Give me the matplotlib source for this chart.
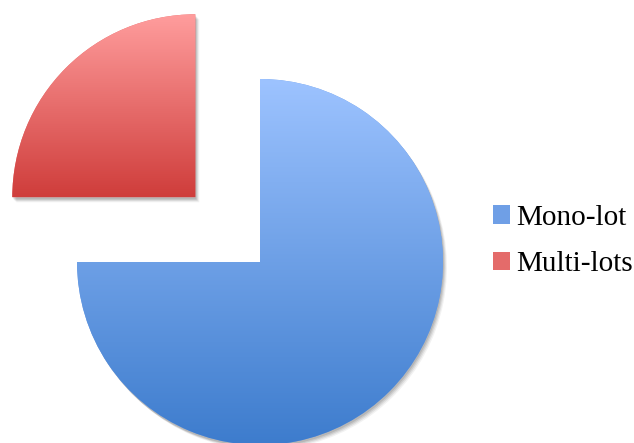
#
# Pie chart: Mono-lot vs Multi-lots, with gradient fills
#

import numpy as np
import matplotlib
matplotlib.use('Agg')
import matplotlib.pyplot as plt
from matplotlib.colors import LinearSegmentedColormap
from matplotlib.patches import Wedge

labels = ["Mono-lot", "Multi-lots"]
shares = [75, 25]
explode_frac = [0, 0.5]

# top colour, bottom colour for each slice
GRADS = [("#9dc3ff", "#3d7ccd"), ("#ff9d9d", "#cf3d3b")]
MID = ["#6f9fe6", "#e46b6a"]

W, H = 634, 443
R = 183

fig = plt.figure(figsize=(W / 100, H / 100), dpi=100)
ax = fig.add_axes([0, 0, 1, 1])
ax.set_axis_off()

# pie's explode is in data units here, so scale by the radius
wedges, _ = ax.pie(shares, labels=None, explode=[e * R for e in explode_frac],
                   startangle=90, counterclock=False, center=(260, H - 262),
                   radius=R, colors=MID, wedgeprops=dict(linewidth=0))

for i, w in enumerate(wedges):
    # soft shadow under the slice
    for dx, dy, a in [(4, -5, 0.05), (3, -4, 0.07), (2, -3, 0.09), (1, -2, 0.1)]:
        sh = Wedge((w.center[0] + dx, w.center[1] + dy), w.r, w.theta1, w.theta2,
                   facecolor="black", edgecolor="none", alpha=a, zorder=0.5)
        ax.add_patch(sh)
    w.set_zorder(1)
    ext = w.get_path().get_extents()
    cmap = LinearSegmentedColormap.from_list("g%d" % i, [GRADS[i][1], GRADS[i][0]])
    grad = np.linspace(0, 1, 256).reshape(-1, 1)
    im = ax.imshow(grad, extent=[ext.x0, ext.x1, ext.y0, ext.y1], cmap=cmap,
                   aspect='auto', origin='lower', zorder=2, interpolation='bilinear')
    im.set_clip_path(w)

ax.set_xlim(0, W)
ax.set_ylim(0, H)
ax.set_aspect('auto')

leg = ax.legend(wedges, labels, loc='center left',
                bbox_to_anchor=(493 / W, 1 - 241 / H),
                frameon=False, prop={'family': 'Liberation Serif', 'size': 21},
                handlelength=0.58, handleheight=0.6, handletextpad=0.22,
                labelspacing=0.7, borderaxespad=0, borderpad=0)

fig.savefig("out.png", dpi=100)
plt.close()
